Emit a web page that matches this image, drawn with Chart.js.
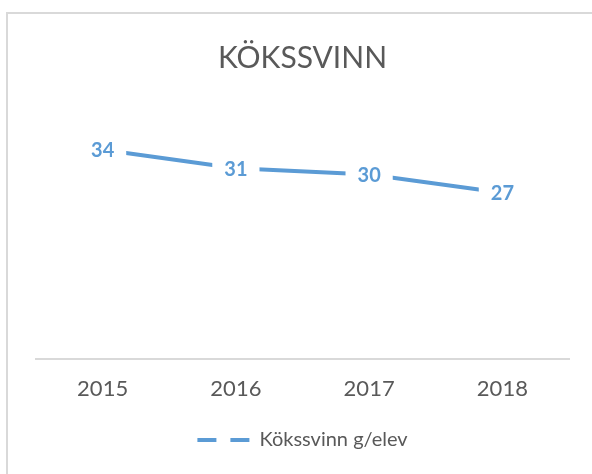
<!DOCTYPE html>
<html>
<head>
<meta charset="utf-8">
<script src="https://cdn.jsdelivr.net/npm/chart.js@4"></script>
<style>
  html, body { margin: 0; padding: 0; background: #fff; overflow: hidden; }
  #wrap { position: relative; width: 592px; height: 474px; }
  #frame { position: absolute; left: 6px; top: 12px; width: 600px; height: 480px; border: 2px solid #D9D9D9; box-sizing: border-box; }
  #chart { position: absolute; left: 0; top: 0; }
</style>
</head>
<body>
<div id="wrap">
  <div id="frame"></div>
  <canvas id="chart" width="592" height="474"></canvas>
</div>
<script>
// data
const years = ['2015', '2016', '2017', '2018'];
const gramsPerPupil = [34, 31, 30, 27];
const seriesName = 'Kökssvinn g/elev';

const blue = '#5B9BD5';
const grey = '#595959';

// value labels drawn on the points, with a white patch that cuts the line
const pointLabels = {
  id: 'pointLabels',
  afterDatasetsDraw(chart) {
    const ctx = chart.ctx;
    const meta = chart.getDatasetMeta(0);
    ctx.save();
    ctx.font = 'bold 20px Lato';
    ctx.textAlign = 'center';
    ctx.textBaseline = 'middle';
    meta.data.forEach((pt, i) => {
      const txt = String(gramsPerPupil[i]);
      const w = ctx.measureText(txt).width;
      ctx.fillStyle = '#fff';
      ctx.fillRect(pt.x - w/2 - 12, pt.y - 13, w + 24, 26);
      ctx.fillStyle = blue;
      ctx.fillText(txt, pt.x, pt.y + 1);
    });
    ctx.restore();
  }
};

new Chart(document.getElementById('chart').getContext('2d'), {
  type: 'line',
  data: {
    labels: years,
    datasets: [{
      label: seriesName,
      data: gramsPerPupil,
      borderColor: blue,
      backgroundColor: blue,
      borderWidth: 4,
      pointRadius: 0,
      tension: 0
    }]
  },
  options: {
    responsive: false,
    animation: false,
    layout: { padding: { left: 36, right: 23, top: 0, bottom: 14 } },
    plugins: {
      title: {
        display: true,
        text: 'KÖKSSVINN',
        color: grey,
        font: { family: 'Lato', size: 30, weight: 'normal' },
        padding: { top: 40, bottom: 37 }
      },
      legend: {
        position: 'bottom',
        labels: {
          usePointStyle: true,
          pointStyle: 'line',
          pointStyleWidth: 52,
          padding: 19,
          color: grey,
          font: { family: 'Lato', size: 20 },
          generateLabels(chart) {
            const items = Chart.defaults.plugins.legend.labels.generateLabels(chart);
            items.forEach(it => { it.lineDash = [19, 14]; it.lineWidth = 4; it.strokeStyle = blue; it.pointStyle = 'line'; });
            return items;
          }
        }
      },
      tooltip: { enabled: false }
    },
    scales: {
      x: {
        offset: true,
        grid: { display: false },
        border: { display: true, color: '#D9D9D9', width: 2 },
        ticks: { color: grey, font: { family: 'Lato', size: 22 }, padding: 9 }
      },
      y: { display: false, min: 0, max: 40 }
    }
  },
  plugins: [pointLabels]
});
</script>
</body>
</html>
